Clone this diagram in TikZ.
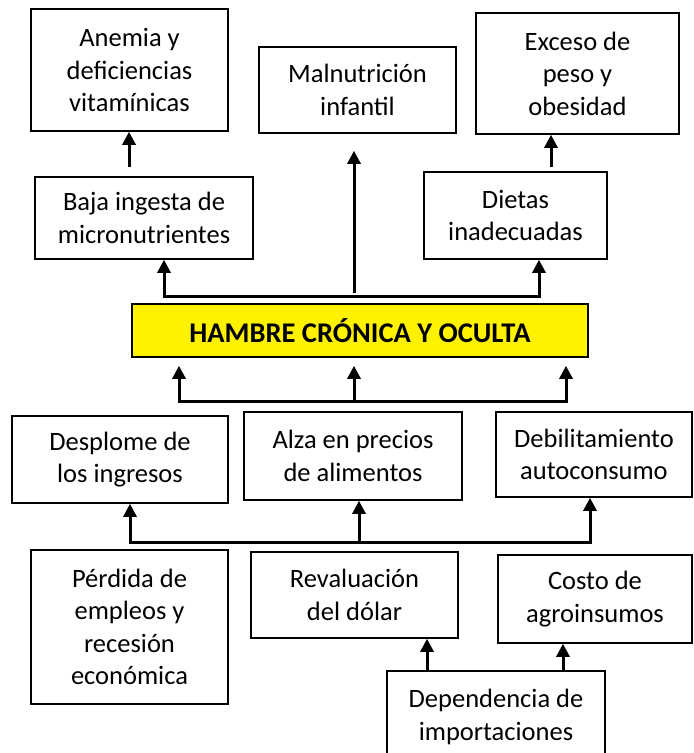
\documentclass[tikz,border=0pt]{standalone}
\usepackage{fontspec}
\setmainfont{Carlito}
\usetikzlibrary{arrows.meta,calc}

\begin{document}
\begin{tikzpicture}[x=1pt,y=-1pt,
  box/.style={draw,line width=1.6pt,align=center,inner sep=0pt,
    font=\fontsize{26.5}{32.5}\selectfont},
  arr/.style={line width=3pt,-{Triangle[width=13pt,length=13pt]}},
  bus/.style={line width=3pt,line cap=rect}]
\clip (0,0) rectangle (694,753);

% define the boxes
  \node[box,minimum width=197pt,minimum height=122pt] (anemia) at (129.5,70)
{Anemia y\\deficiencias\\vitamínicas};
  \node[box,minimum width=197pt,minimum height=86pt]  (malnut) at (357.5,90)
{Malnutrición\\infantil};
  \node[box,minimum width=203pt,minimum height=121pt] (exceso) at (577.5,73.5)
{Exceso de\\peso y\\obesidad};
  \node[box,minimum width=218pt,minimum height=82pt]  (baja)   at (144,218)
{Baja ingesta de\\micronutrientes};
  \node[box,minimum width=183pt,minimum height=87pt]  (dietas) at (515.5,215.5)
{Dietas\\inadecuadas};
  \node[box,fill=yellow,minimum width=456pt,minimum height=53pt,
    font=\fontsize{28.5}{33}\selectfont\bfseries] (hambre) at (360,330.5)
{HAMBRE CRÓNICA Y OCULTA};
  \node[box,minimum width=216pt,minimum height=87pt]  (desplome) at (120,459.5)
{Desplome de\\los ingresos};
  \node[box,minimum width=218pt,minimum height=88pt]  (alza)   at (353,456)
{Alza en precios\\de alimentos};
  \node[box,minimum width=196pt,minimum height=85pt]  (debil)  at (594,454.5)
{Debilitamiento\\autoconsumo};
  \node[box,minimum width=197pt,minimum height=154pt] (perdida) at (129.5,627)
{Pérdida de\\empleos y\\recesión\\económica};
  \node[box,minimum width=207pt,minimum height=86pt]  (reval)  at (354.5,595)
{Revaluación\\del dólar};
  \node[box,minimum width=194pt,minimum height=88pt]  (costo)  at (595,599)
{Costo de\\agroinsumos};
  \node[box,minimum width=218pt,minimum height=92pt]  (depend) at (496,717)
{Dependencia de\\importaciones};

% define the bus points
  \coordinate (t1) at (129,167);
  \coordinate (t2) at (551,167);
  \coordinate (hl) at (164,296);
  \coordinate (hm) at (354,293);
  \coordinate (hr) at (539,296);
  \coordinate (ml) at (179,401);
  \coordinate (mm) at (354,401);
  \coordinate (mr) at (566,401);
  \coordinate (bl) at (130,542);
  \coordinate (bm) at (359,542);
  \coordinate (br) at (590,542);
  \coordinate (d1) at (427,0);
  \coordinate (d2) at (563,0);

% define the links
  \draw[arr] (t1) -- (t1 |- anemia.south);
  \draw[arr] (t2) -- (t2 |- exceso.south);
  \draw[arr] (hm) -- ($(hm |- malnut.south)+(0,17)$);
  \draw[bus] (hl) -- (hr);
  \draw[arr] (hl) -- (hl |- baja.south);
  \draw[arr] (hr) -- (hr |- dietas.south);

  \draw[bus] (ml) -- (mr);
  \foreach \c in {ml,mm,mr}
    \draw[arr] (\c) -- ($(\c |- hambre.south)+(0,8)$);

  \draw[bus] (bl) -- (br);
  \draw[arr] (bl) -- (bl |- desplome.south);
  \draw[arr] (bm) -- (bm |- alza.south);
  \draw[arr] (br) -- (br |- debil.south);

  \draw[arr] (d1 |- depend.north) -- (d1 |- reval.south);
  \draw[arr] (d2 |- depend.north) -- (d2 |- costo.south);

\end{tikzpicture}
\end{document}
